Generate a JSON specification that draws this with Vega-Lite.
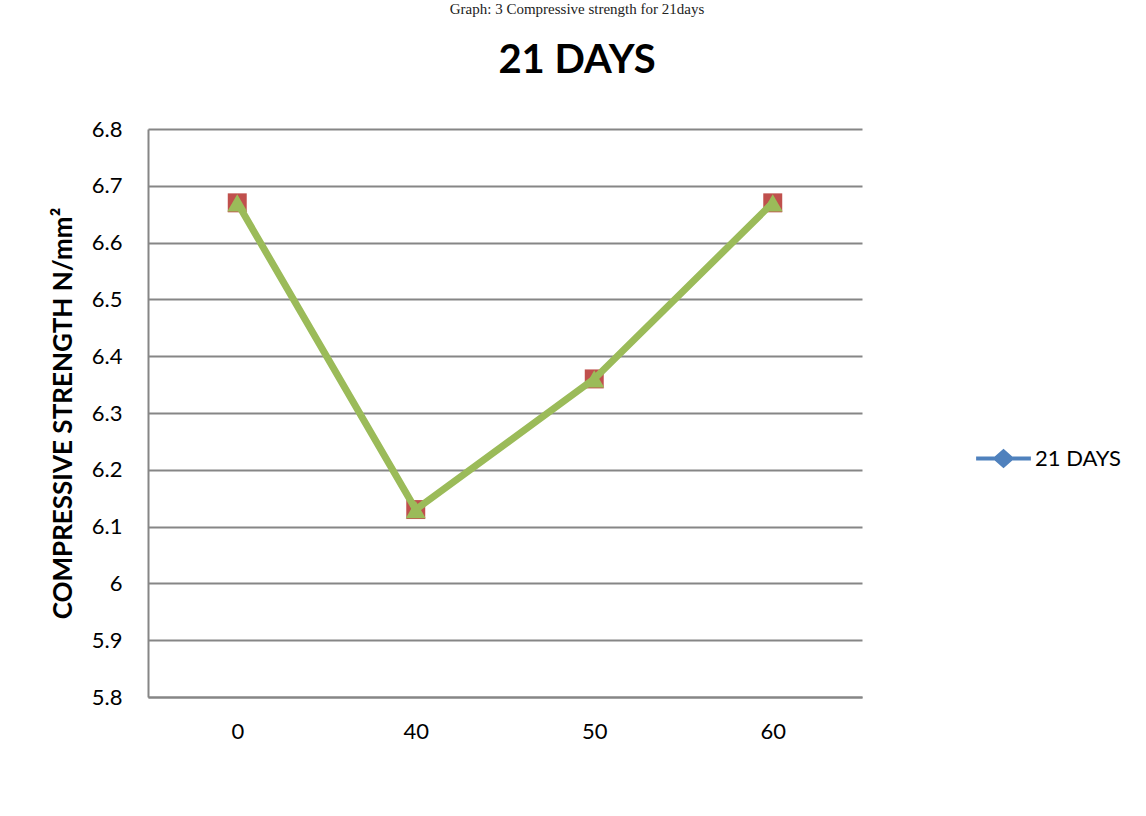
{
  "$schema": "https://vega.github.io/schema/vega-lite/v6.json",
  "width": 714,
  "height": 568,
  "autosize": {"type": "none"},
  "padding": {"left": 148, "top": 129, "right": 284, "bottom": 119},
  "background": "white",
  "title": {
    "text": "Graph: 3  Compressive strength for 21days",
    "subtitle": "21 DAYS",
    "font": "Liberation Serif",
    "fontSize": 15,
    "fontWeight": "normal",
    "color": "#222222",
    "subtitleFont": "Lato",
    "subtitleFontSize": 40,
    "subtitleFontWeight": "bold",
    "subtitleColor": "#000000",
    "subtitlePadding": 24,
    "anchor": "middle",
    "dx": 72,
    "offset": 37
  },
  "data": {
    "values": [
      {"replacement": 0, "series": "21 DAYS", "strength": 6.67},
      {"replacement": 40, "series": "21 DAYS", "strength": 6.13},
      {"replacement": 50, "series": "21 DAYS", "strength": 6.36},
      {"replacement": 60, "series": "21 DAYS", "strength": 6.67},
      {"replacement": 0, "series": "B", "strength": 6.67},
      {"replacement": 40, "series": "B", "strength": 6.13},
      {"replacement": 50, "series": "B", "strength": 6.36},
      {"replacement": 60, "series": "B", "strength": 6.67},
      {"replacement": 0, "series": "C", "strength": 6.67},
      {"replacement": 40, "series": "C", "strength": 6.13},
      {"replacement": 50, "series": "C", "strength": 6.36},
      {"replacement": 60, "series": "C", "strength": 6.67}
    ]
  },
  "encoding": {
    "x": {
      "field": "replacement",
      "type": "ordinal",
      "scale": {"type": "point", "padding": 0.5},
      "axis": {
        "title": null,
        "labelAngle": 0,
        "labelFont": "Lato",
        "labelFontSize": 22,
        "labelColor": "#000000",
        "labelPadding": 24,
        "ticks": false,
        "domainColor": "#868686",
        "domainWidth": 2,
        "grid": false
      }
    },
    "y": {
      "field": "strength",
      "type": "quantitative",
      "scale": {"domain": [5.8, 6.8], "nice": false, "zero": false},
      "axis": {
        "title": "COMPRESSIVE STRENGTH N/mm²",
        "titleFont": "Lato",
        "titleFontSize": 26,
        "titleFontWeight": "bold",
        "titleColor": "#000000",
        "titlePadding": 15,
        "values": [5.8, 5.9, 6.0, 6.1, 6.2, 6.3, 6.4, 6.5, 6.6, 6.7, 6.8],
        "format": ".1~f",
        "labelFont": "Lato",
        "labelFontSize": 22,
        "labelColor": "#000000",
        "labelPadding": 26,
        "ticks": false,
        "domainColor": "#868686",
        "domainWidth": 2,
        "grid": true,
        "gridColor": "#868686",
        "gridWidth": 2
      }
    }
  },
  "layer": [
    {
      "transform": [{"filter": "datum.series === '21 DAYS'"}],
      "mark": {"type": "line", "strokeWidth": 5, "point": {"shape": "diamond", "size": 250, "filled": true}},
      "encoding": {
        "color": {
          "field": "series",
          "type": "nominal",
          "scale": {"domain": ["21 DAYS"], "range": ["#4F81BD"]},
          "legend": {
            "title": null,
            "orient": "none",
            "legendX": 828,
            "legendY": 302,
            "symbolType": "M-1,-0.07L-0.32,-0.07L0,-0.36L0.32,-0.07L1,-0.07L1,0.07L0.32,0.07L0,0.36L-0.32,0.07L-1,0.07Z",
            "symbolSize": 3000,
            "symbolFillColor": "#4F81BD",
            "symbolStrokeColor": "#4F81BD",
            "symbolStrokeWidth": 0,
            "labelFont": "Lato",
            "labelFontSize": 22,
            "labelColor": "#000000",
            "labelOffset": 4
          }
        }
      }
    },
    {
      "transform": [{"filter": "datum.series === 'B'"}],
      "mark": {"type": "line", "strokeWidth": 5, "color": "#C0504D", "point": {"shape": "square", "size": 360, "filled": true, "color": "#C0504D"}}
    },
    {
      "transform": [{"filter": "datum.series === 'C'"}],
      "mark": {"type": "line", "strokeWidth": 7, "color": "#9BBB59", "point": {"shape": "triangle-up", "size": 400, "filled": true, "color": "#9BBB59"}}
    }
  ],
  "config": {
    "view": {"stroke": null}
  }
}
